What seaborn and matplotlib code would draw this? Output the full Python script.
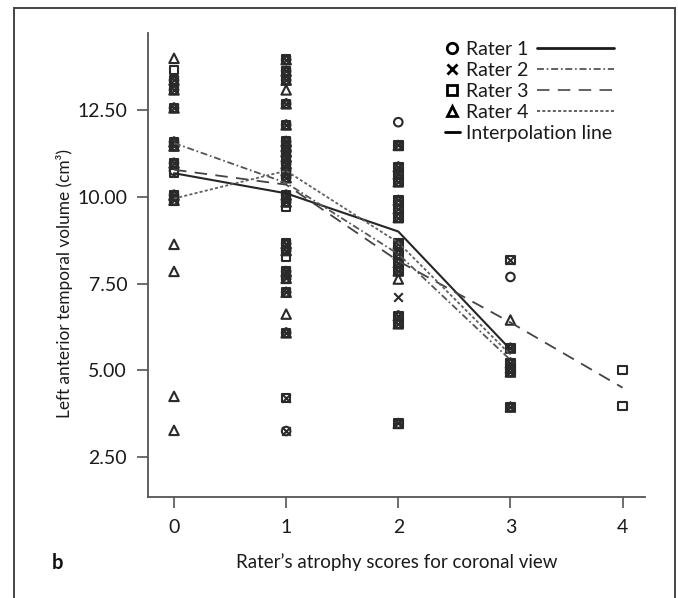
import matplotlib
matplotlib.use("Agg")
import pandas as pd
import seaborn as sns
import matplotlib.pyplot as plt
from matplotlib.lines import Line2D
from matplotlib.patches import Rectangle

# subjects on which all four raters agree (markers stack into dark blobs)
agree_score = [0, 0, 0, 0, 0, 0, 0, 0,
               1, 1, 1, 1, 1, 1, 1, 1, 1, 1, 1, 1, 1, 1, 1, 1, 1, 1, 1, 1,
               2, 2, 2, 2, 2, 2, 2, 2, 2, 2, 2, 2, 2, 2,
               3, 3, 3, 3, 3]
agree_vol = [13.36, 13.08, 12.56, 11.58, 11.46, 10.97, 10.05, 9.90,
             13.95, 13.62, 13.36, 12.68, 12.07, 11.60, 11.45, 11.30, 11.15, 10.95,
             10.75, 10.55, 10.05, 9.85, 8.65, 8.45, 7.85, 7.65, 7.25, 6.08,
             10.86, 10.65, 10.43, 9.90, 9.65, 9.40, 8.65, 8.35, 8.10, 7.86,
             6.57, 6.34, 3.47, 11.48,
             5.64, 5.21, 5.06, 4.95, 3.94]

# points where a single rater (or two) differ
r1_score = [0, 1, 2, 2, 3]
r1_vol = [10.75, 3.25, 12.15, 11.48, 7.69]
r2_score = [1, 1, 2, 3]
r2_vol = [4.20, 3.25, 7.11, 8.18]
r3_score = [0, 0, 1, 1, 1, 3, 4, 4]
r3_vol = [13.65, 10.68, 9.70, 8.26, 4.20, 8.18, 5.01, 3.97]
r4_score = [0, 0, 0, 0, 0, 1, 1, 2, 3]
r4_vol = [13.99, 8.63, 7.85, 4.25, 3.27, 13.08, 6.62, 7.63, 6.45]

# mean volume per score for each rater (lines)
mean_score = [0, 1, 2, 3]
r1_mean = [10.68, 10.10, 9.00, 5.60]
r2_mean = [11.55, 10.40, 8.35, 5.30]
r3_mean_score = [0, 1, 2, 3, 4]
r3_mean = [10.78, 10.35, 8.15, 6.38, 4.50]
r4_mean = [9.95, 10.75, 8.68, 5.45]

raters = ["Rater 1", "Rater 2", "Rater 3", "Rater 4"]
markers = ["o", "x", "s", "^"]
dash_styles = ["-", (0, (5, 2, 1.2, 2)), (0, (9, 6)), (0, (2.2, 1.6))]
line_colors = ["#262626", "#555555", "#444444", "#606060"]
ink = "#2a2a2a"

sns.set_style("ticks")
plt.rcParams["font.family"] = ["Lato", "DejaVu Sans"]
plt.rcParams["font.size"] = 13
plt.rcParams["lines.scale_dashes"] = False

fig = plt.figure(figsize=(6.78, 5.98), dpi=100)
ax = fig.add_axes([148 / 678, 1 - 497 / 598, 497 / 678, 464 / 598])

extra_score = [r1_score, r2_score, r3_score, r4_score]
extra_vol = [r1_vol, r2_vol, r3_vol, r4_vol]

for i, name in enumerate(raters):
    df = pd.DataFrame({"score": agree_score + extra_score[i],
                       "vol": agree_vol + extra_vol[i]})
    if markers[i] == "x":
        sns.scatterplot(data=df, x="score", y="vol", marker="x", s=38,
                        color=ink, linewidth=1.5, ax=ax, zorder=3)
    else:
        sns.scatterplot(data=df, x="score", y="vol", marker=markers[i],
                        s=46 if markers[i] == "^" else 38,
                        facecolors="none", edgecolor=ink, linewidth=1.5,
                        ax=ax, zorder=3)

means = [(mean_score, r1_mean), (mean_score, r2_mean),
         (r3_mean_score, r3_mean), (mean_score, r4_mean)]
for i, (xs, ys) in enumerate(means):
    sns.lineplot(x=xs, y=ys, color=line_colors[i], linestyle=dash_styles[i],
                 linewidth=1.5 if i == 0 else 1.3, ax=ax, zorder=4)

ax.set_xlim(-0.232, 4.20)
ax.set_ylim(1.35, 14.72)
ax.set_xticks([0, 1, 2, 3, 4])
ax.set_yticks([2.5, 5.0, 7.5, 10.0, 12.5])
ax.set_yticklabels([f"{v:.2f}" for v in [2.5, 5.0, 7.5, 10.0, 12.5]])
sns.despine(ax=ax)
for sp in ["left", "bottom"]:
    ax.spines[sp].set_color("#555555")
    ax.spines[sp].set_linewidth(1.3)
ax.tick_params(axis="both", length=8, width=1.2, color="#555555",
               labelcolor="#1a1a1a", labelsize=14)
ax.tick_params(axis="x", pad=8)
ax.tick_params(axis="y", pad=7)

ax.set_xlabel("Rater\u2019s atrophy scores for coronal view", fontsize=13.5, color="#1a1a1a")
ax.set_ylabel("Left anterior temporal volume (cm\u00b3)", fontsize=12.4, color="#1a1a1a")
ax.xaxis.set_label_coords(0.5, -0.12)
ax.yaxis.set_label_coords(-0.15, 0.461)

# legend: markers + names on the left, line samples on the right
mk_handles = [Line2D([], [], marker=m, linestyle="none", color="black",
                     markerfacecolor="none", markeredgewidth=2.0, markersize=7.5)
              for m in markers]
mk_handles.append(Line2D([], [], color="black", linewidth=2.0))
leg1 = ax.legend(mk_handles, raters + ["Interpolation line"], loc="upper left",
                 bbox_to_anchor=(445 / 678, 1 - 41 / 598), bbox_transform=fig.transFigure,
                 frameon=False, fontsize=14, handlelength=0.75, handletextpad=0.35,
                 labelspacing=0.2, borderpad=0, borderaxespad=0, labelcolor="#1a1a1a")
ax.add_artist(leg1)
ln_handles = [Line2D([], [], color="#1a1a1a" if i == 0 else "#555555", linestyle=dash_styles[i],
                     linewidth=2.0 if i == 0 else 1.3) for i in range(4)]
ln_handles.append(Line2D([], [], color="none"))
ax.legend(ln_handles, [""] * 5, loc="upper left",
          bbox_to_anchor=(537 / 678, 1 - 41 / 598), bbox_transform=fig.transFigure,
          frameon=False, fontsize=14, handlelength=3.95, handletextpad=0,
          labelspacing=0.2, borderpad=0, borderaxespad=0)

fig.text(57 / 678, 1 - 563 / 598, "b", fontsize=14.5, fontweight="bold",
         ha="center", va="center", color="#111111")
fig.patches.append(Rectangle((14 / 678, -0.01), 661 / 678, 1 - 8 / 598 + 0.01,
                             transform=fig.transFigure, fill=False,
                             edgecolor="#444444", linewidth=1.4))

fig.savefig("out.png", dpi=100)
